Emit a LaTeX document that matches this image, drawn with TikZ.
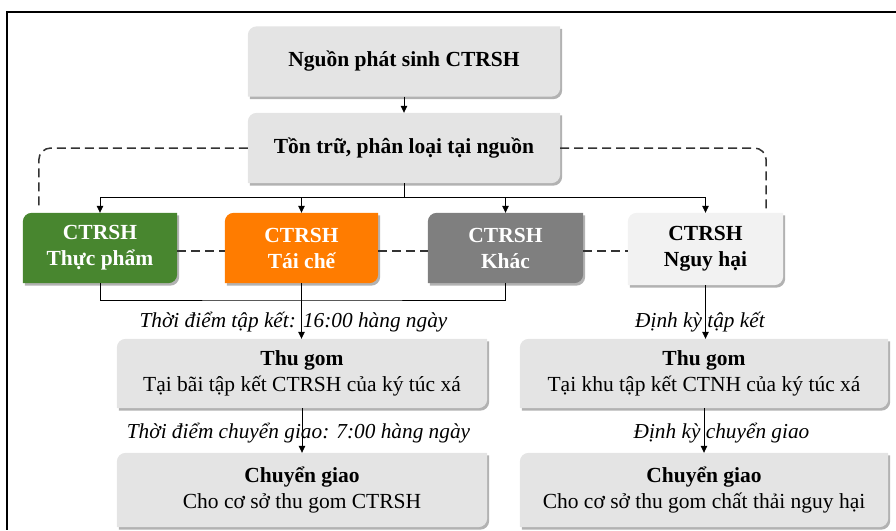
\documentclass[tikz,border=0pt]{standalone}
\usepackage{fontspec}
\setmainfont{Liberation Serif}
\usetikzlibrary{arrows.meta,backgrounds,shadows}

\definecolor{boxgray}{HTML}{E4E4E4}
\definecolor{boxlight}{HTML}{F2F2F2}
\definecolor{boxgreen}{HTML}{48862F}
\definecolor{boxorange}{HTML}{FF7C00}
\definecolor{boxdark}{HTML}{7F7F7F}
\definecolor{dashgray}{HTML}{333333}

\tikzset{>={Triangle[length=7pt,width=6.5pt]}}
\tikzset{
  box/.style={minimum width=312pt,minimum height=70pt,inner sep=0pt,align=center,
    font=\fontsize{21.5}{26}\selectfont\bfseries},
  catbox/.style={box,minimum width=154pt,minimum height=70pt},
  stepbox/.style={box,minimum width=370pt,minimum height=70pt,
    font=\fontsize{21.5}{26}\selectfont},
  flow/.style={->,line width=0.8pt},
  plain/.style={line width=0.8pt},
  link/.style={dashgray,line width=1.5pt,dash pattern=on 9pt off 5pt},
  note/.style={font=\fontsize{21.3}{26}\selectfont\itshape},
  boxshadow/.style={drop shadow={shadow xshift=2pt,shadow yshift=-2.5pt,
    fill=black!55,opacity=.55}},
}

% box outline: rounded top left and bottom right
\newcommand\boxshape[2]{%
  \fill[#2,boxshadow] (#1.north) [sharp corners] -- (#1.north east) -- (#1.east)
    [rounded corners=9pt] -- (#1.south east) -- (#1.south) [sharp corners]
    -- (#1.south west) -- (#1.west) [rounded corners=9pt] -- (#1.north west) -- cycle;}

\begin{document}
\begin{tikzpicture}[x=1pt,y=-1pt]
\useasboundingbox (0,0) rectangle (896,530);

\draw [line width=2pt] (896,12) -- (7,12) -- (7,530);

\node [box] (nguon) at (404,61.5) {Nguồn phát sinh CTRSH};
\node [box] (tontru) at (404,148) {Tồn trữ, phân loại tại nguồn};

\node [catbox,text=white] (thucpham) at (100,248) {CTRSH\\Thực phẩm};
\node [catbox,text=white,minimum width=153pt] (taiche) at (301.5,248) {CTRSH\\Tái chế};
\node [catbox,text=white,minimum width=155pt] (khac) at (505.5,248) {CTRSH\\Khác};
\node [catbox,minimum width=155pt,minimum height=72pt] (nguyhai) at (705.5,249) {CTRSH\\Nguy hại};

\node [stepbox,minimum height=69pt] (thugom1) at (302,373.5)
  {\textbf{Thu gom}\\Tại bãi tập kết CTRSH của ký túc xá};
\node [stepbox,minimum width=368pt,minimum height=69pt] (thugom2) at (704,373.5)
  {\textbf{Thu gom}\\Tại khu tập kết CTNH của ký túc xá};
\node [stepbox,minimum height=74pt] (giao1) at (302,490)
  {\textbf{Chuyển giao}\\Cho cơ sở thu gom CTRSH};
\node [stepbox,minimum width=368pt,minimum height=74pt] (giao2) at (704,490)
  {\textbf{Chuyển giao}\\Cho cơ sở thu gom chất thải nguy hại};

\begin{scope}[on background layer]
\foreach \n/\c in {nguon/boxgray,tontru/boxgray,thucpham/boxgreen,taiche/boxorange,
  khac/boxdark,nguyhai/boxlight,thugom1/boxgray,thugom2/boxgray,giao1/boxgray,giao2/boxgray}
  {\boxshape{\n}{\c}}
\end{scope}

% solid flow
\coordinate (bus) at (404,197);
\coordinate (gather) at (301.5,300);
\draw [flow] (nguon) -- (tontru);
\draw [plain] (tontru.south) -- (bus);
\foreach \n in {thucpham,taiche,khac,nguyhai}
  \draw [flow] (bus) -| (\n.north);
\draw [plain] (thucpham.south) |- (gather) -| (khac.south);
\draw [flow] (taiche.south) -- (taiche.south |- thugom1.north);
\draw [flow] (nguyhai.south) -- (nguyhai.south |- thugom2.north);
\draw [flow] (thugom1) -- (giao1);
\draw [flow] (thugom2) -- (giao2);

% dashed links
\draw [link,rounded corners=12pt] (tontru.west) -| ([xshift=16pt,yshift=3pt]thucpham.north west);
\draw [link,rounded corners=12pt] (tontru.east) -| ([xshift=-17pt,yshift=3pt]nguyhai.north east);
\draw [link] ([yshift=-3pt]thucpham.east) -- ([yshift=-3pt]taiche.west);
\draw [link] ([yshift=-3pt]taiche.east) -- ([yshift=-3pt]khac.west);
\draw [link] ([yshift=-3pt]khac.east) -- ([yshift=-3pt]khac.east -| nguyhai.west);

\node [note] (tapket1) at (293.5,322) {Thời điểm tập kết: 16:00 hàng ngày};
\node [note] (tapket2) at (700,322) {Định kỳ tập kết};
\node [note] (chuyen1) at (298.5,433) {Thời điểm chuyển giao: 7:00 hàng ngày};
\node [note] (chuyen2) at (721.5,433) {Định kỳ chuyển giao};
\end{tikzpicture}
\end{document}
